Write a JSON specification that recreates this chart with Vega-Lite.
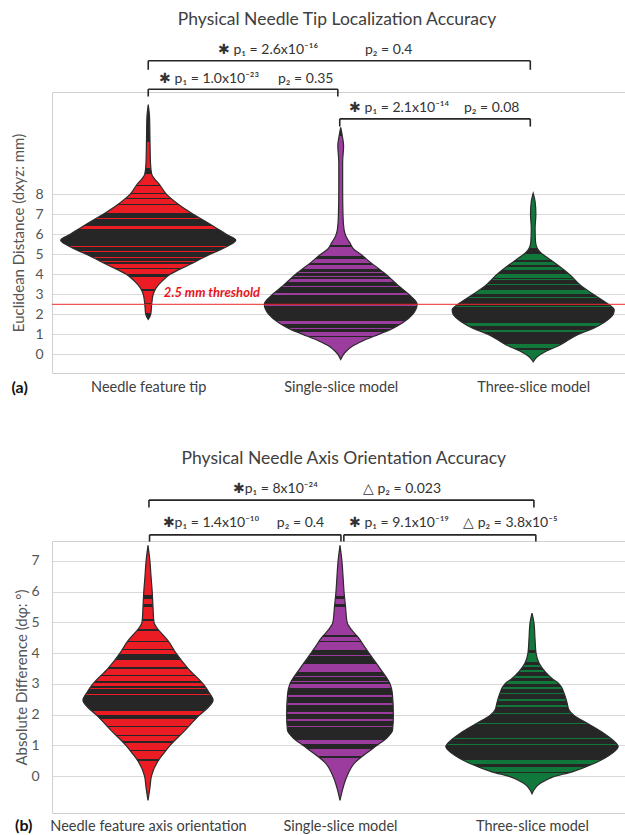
{
  "$schema": "https://vega.github.io/schema/vega-lite/v6.json",
  "background": "white",
  "padding": {"left": 10, "top": 10, "right": 0, "bottom": 0},
  "spacing": 53,
  "config": {
    "view": {"stroke": "#d0d0d0"},
    "font": "Lato",
    "text": {"font": "Lato"},
    "axis": {"labelFont": "Lato", "titleFont": "Lato", "labelLimit": 400}
  },
  "vconcat": [
    {
      "width": 573,
      "height": 281,
      "data": {"values": [
        {"g":"A1","v":12.47,"lo":1,"hi":1},
        {"g":"A1","v":11.8,"lo":0.993,"hi":1.007},
        {"g":"A1","v":10.7,"lo":0.991,"hi":1.009},
        {"g":"A1","v":9.5,"lo":0.988,"hi":1.012},
        {"g":"A1","v":9.0,"lo":0.982,"hi":1.018},
        {"g":"A1","v":8.75,"lo":0.966,"hi":1.034},
        {"g":"A1","v":8.5,"lo":0.943,"hi":1.057},
        {"g":"A1","v":8.0,"lo":0.906,"hi":1.094},
        {"g":"A1","v":7.5,"lo":0.844,"hi":1.156},
        {"g":"A1","v":7.0,"lo":0.766,"hi":1.234},
        {"g":"A1","v":6.5,"lo":0.678,"hi":1.322},
        {"g":"A1","v":6.0,"lo":0.595,"hi":1.405},
        {"g":"A1","v":5.7,"lo":0.545,"hi":1.455},
        {"g":"A1","v":5.42,"lo":0.584,"hi":1.416},
        {"g":"A1","v":5.0,"lo":0.678,"hi":1.322},
        {"g":"A1","v":4.5,"lo":0.782,"hi":1.218},
        {"g":"A1","v":4.0,"lo":0.886,"hi":1.114},
        {"g":"A1","v":3.67,"lo":0.927,"hi":1.073},
        {"g":"A1","v":3.33,"lo":0.958,"hi":1.042},
        {"g":"A1","v":3.0,"lo":0.974,"hi":1.026},
        {"g":"A1","v":2.5,"lo":0.982,"hi":1.018},
        {"g":"A1","v":2.0,"lo":0.987,"hi":1.013},
        {"g":"A1","v":1.75,"lo":1,"hi":1},
        {"g":"A2","v":11.33,"lo":2,"hi":2},
        {"g":"A2","v":10.92,"lo":1.992,"hi":2.008},
        {"g":"A2","v":10.4,"lo":1.985,"hi":2.015},
        {"g":"A2","v":9.58,"lo":1.99,"hi":2.01},
        {"g":"A2","v":8.25,"lo":1.99,"hi":2.01},
        {"g":"A2","v":6.92,"lo":1.988,"hi":2.012},
        {"g":"A2","v":6.25,"lo":1.983,"hi":2.017},
        {"g":"A2","v":5.92,"lo":1.974,"hi":2.026},
        {"g":"A2","v":5.58,"lo":1.953,"hi":2.047},
        {"g":"A2","v":5.25,"lo":1.932,"hi":2.068},
        {"g":"A2","v":5.0,"lo":1.896,"hi":2.104},
        {"g":"A2","v":4.58,"lo":1.844,"hi":2.156},
        {"g":"A2","v":4.0,"lo":1.766,"hi":2.234},
        {"g":"A2","v":3.42,"lo":1.699,"hi":2.301},
        {"g":"A2","v":3.0,"lo":1.647,"hi":2.353},
        {"g":"A2","v":2.5,"lo":1.603,"hi":2.397},
        {"g":"A2","v":2.0,"lo":1.626,"hi":2.374},
        {"g":"A2","v":1.58,"lo":1.678,"hi":2.322},
        {"g":"A2","v":1.25,"lo":1.74,"hi":2.26},
        {"g":"A2","v":1.0,"lo":1.803,"hi":2.197},
        {"g":"A2","v":0.67,"lo":1.886,"hi":2.114},
        {"g":"A2","v":0.42,"lo":1.938,"hi":2.062},
        {"g":"A2","v":0.08,"lo":1.979,"hi":2.021},
        {"g":"A2","v":-0.25,"lo":2,"hi":2},
        {"g":"A3","v":8.05,"lo":3,"hi":3},
        {"g":"A3","v":7.63,"lo":2.99,"hi":3.01},
        {"g":"A3","v":7.0,"lo":2.986,"hi":3.014},
        {"g":"A3","v":6.3,"lo":2.99,"hi":3.01},
        {"g":"A3","v":5.63,"lo":2.988,"hi":3.012},
        {"g":"A3","v":5.3,"lo":2.979,"hi":3.021},
        {"g":"A3","v":5.05,"lo":2.958,"hi":3.042},
        {"g":"A3","v":4.8,"lo":2.922,"hi":3.078},
        {"g":"A3","v":4.47,"lo":2.875,"hi":3.125},
        {"g":"A3","v":4.0,"lo":2.813,"hi":3.187},
        {"g":"A3","v":3.47,"lo":2.756,"hi":3.244},
        {"g":"A3","v":3.0,"lo":2.688,"hi":3.312},
        {"g":"A3","v":2.55,"lo":2.616,"hi":3.384},
        {"g":"A3","v":2.22,"lo":2.579,"hi":3.421},
        {"g":"A3","v":2.0,"lo":2.584,"hi":3.416},
        {"g":"A3","v":1.63,"lo":2.626,"hi":3.374},
        {"g":"A3","v":1.3,"lo":2.688,"hi":3.312},
        {"g":"A3","v":1.0,"lo":2.766,"hi":3.234},
        {"g":"A3","v":0.47,"lo":2.86,"hi":3.14},
        {"g":"A3","v":0.13,"lo":2.938,"hi":3.062},
        {"g":"A3","v":-0.12,"lo":2.979,"hi":3.021},
        {"g":"A3","v":-0.37,"lo":3,"hi":3}
      ]},
      "layer": [
        {
          "transform": [{"filter": "datum.g == 'A1'"}],
          "mark": {"type": "area", "orient": "horizontal", "interpolate": "monotone", "stroke": "#2b2b2b", "strokeWidth": 1.2,
            "fill": {"gradient": "linear", "x1": 0, "y1": 0, "x2": 0, "y2": 1, "stops": [
              {"offset":0,"color":"#262626"},
              {"offset":0.174,"color":"#262626"},{"offset":0.174,"color":"#ec1c24"},{"offset":0.296,"color":"#ec1c24"},{"offset":0.296,"color":"#262626"},
              {"offset":0.324,"color":"#262626"},{"offset":0.324,"color":"#ec1c24"},{"offset":0.373,"color":"#ec1c24"},{"offset":0.373,"color":"#262626"},
              {"offset":0.38,"color":"#262626"},{"offset":0.38,"color":"#ec1c24"},{"offset":0.41,"color":"#ec1c24"},{"offset":0.41,"color":"#262626"},
              {"offset":0.415,"color":"#262626"},{"offset":0.415,"color":"#ec1c24"},{"offset":0.435,"color":"#ec1c24"},{"offset":0.435,"color":"#262626"},
              {"offset":0.44,"color":"#262626"},{"offset":0.44,"color":"#ec1c24"},{"offset":0.461,"color":"#ec1c24"},{"offset":0.461,"color":"#262626"},
              {"offset":0.468,"color":"#262626"},{"offset":0.468,"color":"#ec1c24"},{"offset":0.503,"color":"#ec1c24"},{"offset":0.503,"color":"#262626"},
              {"offset":0.526,"color":"#262626"},{"offset":0.526,"color":"#ec1c24"},{"offset":0.535,"color":"#ec1c24"},{"offset":0.535,"color":"#262626"},
              {"offset":0.564,"color":"#262626"},{"offset":0.564,"color":"#ec1c24"},{"offset":0.578,"color":"#ec1c24"},{"offset":0.578,"color":"#262626"},
              {"offset":0.615,"color":"#262626"},{"offset":0.615,"color":"#ec1c24"},{"offset":0.618,"color":"#ec1c24"},{"offset":0.618,"color":"#262626"},
              {"offset":0.658,"color":"#262626"},{"offset":0.658,"color":"#ec1c24"},{"offset":0.663,"color":"#ec1c24"},{"offset":0.663,"color":"#262626"},
              {"offset":0.684,"color":"#262626"},{"offset":0.684,"color":"#ec1c24"},{"offset":0.687,"color":"#ec1c24"},{"offset":0.687,"color":"#262626"},
              {"offset":0.709,"color":"#262626"},{"offset":0.709,"color":"#ec1c24"},{"offset":0.716,"color":"#ec1c24"},{"offset":0.716,"color":"#262626"},
              {"offset":0.728,"color":"#262626"},{"offset":0.728,"color":"#ec1c24"},{"offset":0.734,"color":"#ec1c24"},{"offset":0.734,"color":"#262626"},
              {"offset":0.743,"color":"#262626"},{"offset":0.743,"color":"#ec1c24"},{"offset":0.762,"color":"#ec1c24"},{"offset":0.762,"color":"#262626"},
              {"offset":0.767,"color":"#262626"},{"offset":0.767,"color":"#ec1c24"},{"offset":0.79,"color":"#ec1c24"},{"offset":0.79,"color":"#262626"},
              {"offset":0.803,"color":"#262626"},{"offset":0.803,"color":"#ec1c24"},{"offset":0.86,"color":"#ec1c24"},{"offset":0.86,"color":"#262626"},
              {"offset":0.866,"color":"#262626"},{"offset":0.866,"color":"#ec1c24"},{"offset":0.925,"color":"#ec1c24"},{"offset":0.925,"color":"#262626"},
              {"offset":0.935,"color":"#262626"},{"offset":0.935,"color":"#ec1c24"},{"offset":0.969,"color":"#ec1c24"},{"offset":0.969,"color":"#262626"},
              {"offset":1,"color":"#262626"}
            ]}},
          "encoding": {
            "y": {"field": "v", "type": "quantitative", "scale": {"domain": [-0.93, 13.1], "nice": false, "zero": false},
              "axis": {"title": "Euclidean Distance (dxyz: mm)", "values": [0,1,2,3,4,5,6,7,8], "tickCount": 30, "format": "d", "labelOverlap": false, "grid": true, "gridColor": "#d9d9d9", "domain": false, "ticks": false,
                "labelPadding": 9, "labelFontSize": 14, "labelColor": "#555555", "titleFontSize": 15, "titleFontWeight": "normal", "titleColor": "#555555", "titlePadding": 8}},
            "x": {"field": "lo", "type": "quantitative", "scale": {"domain": [0.5, 3.477], "nice": false, "zero": false},
              "axis": {"values": [1,2,3], "tickCount": 30, "labelOverlap": false, "labelExpr": "datum.value == 1 ? 'Needle feature tip' : datum.value == 2 ? 'Single-slice model' : 'Three-slice model'",
                "grid": false, "domain": false, "ticks": false, "labelFontSize": 14.5, "labelColor": "#404040", "labelPadding": 7,
                "title": "(a)", "titleX": -41, "titleY": 14, "titleAlign": "left", "titleBaseline": "middle", "titleFontSize": 16, "titleFontWeight": "bold", "titleColor": "#111111"}},
            "x2": {"field": "hi"}
          }
        },
        {
          "transform": [{"filter": "datum.g == 'A2'"}],
          "mark": {"type": "area", "orient": "horizontal", "interpolate": "monotone", "stroke": "#2b2b2b", "strokeWidth": 1.2,
            "fill": {"gradient": "linear", "x1": 0, "y1": 0, "x2": 0, "y2": 1, "stops": [
              {"offset":0,"color":"#262626"},
              {"offset":0.037,"color":"#262626"},{"offset":0.037,"color":"#9c3c9f"},{"offset":0.508,"color":"#9c3c9f"},{"offset":0.508,"color":"#262626"},
              {"offset":0.514,"color":"#262626"},{"offset":0.514,"color":"#9c3c9f"},{"offset":0.554,"color":"#9c3c9f"},{"offset":0.554,"color":"#262626"},
              {"offset":0.568,"color":"#262626"},{"offset":0.568,"color":"#9c3c9f"},{"offset":0.583,"color":"#9c3c9f"},{"offset":0.583,"color":"#262626"},
              {"offset":0.594,"color":"#262626"},{"offset":0.594,"color":"#9c3c9f"},{"offset":0.611,"color":"#9c3c9f"},{"offset":0.611,"color":"#262626"},
              {"offset":0.622,"color":"#262626"},{"offset":0.622,"color":"#9c3c9f"},{"offset":0.629,"color":"#9c3c9f"},{"offset":0.629,"color":"#262626"},
              {"offset":0.642,"color":"#262626"},{"offset":0.642,"color":"#9c3c9f"},{"offset":0.645,"color":"#9c3c9f"},{"offset":0.645,"color":"#262626"},
              {"offset":0.655,"color":"#262626"},{"offset":0.655,"color":"#9c3c9f"},{"offset":0.666,"color":"#9c3c9f"},{"offset":0.666,"color":"#262626"},
              {"offset":0.683,"color":"#262626"},{"offset":0.683,"color":"#9c3c9f"},{"offset":0.688,"color":"#9c3c9f"},{"offset":0.688,"color":"#262626"},
              {"offset":0.715,"color":"#262626"},{"offset":0.715,"color":"#9c3c9f"},{"offset":0.724,"color":"#9c3c9f"},{"offset":0.724,"color":"#262626"},
              {"offset":0.767,"color":"#262626"},{"offset":0.767,"color":"#9c3c9f"},{"offset":0.771,"color":"#9c3c9f"},{"offset":0.771,"color":"#262626"},
              {"offset":0.794,"color":"#262626"},{"offset":0.794,"color":"#9c3c9f"},{"offset":0.797,"color":"#9c3c9f"},{"offset":0.797,"color":"#262626"},
              {"offset":0.834,"color":"#262626"},{"offset":0.834,"color":"#9c3c9f"},{"offset":0.846,"color":"#9c3c9f"},{"offset":0.846,"color":"#262626"},
              {"offset":0.854,"color":"#262626"},{"offset":0.854,"color":"#9c3c9f"},{"offset":0.858,"color":"#9c3c9f"},{"offset":0.858,"color":"#262626"},
              {"offset":0.864,"color":"#262626"},{"offset":0.864,"color":"#9c3c9f"},{"offset":0.871,"color":"#9c3c9f"},{"offset":0.871,"color":"#262626"},
              {"offset":0.882,"color":"#262626"},{"offset":0.882,"color":"#9c3c9f"},{"offset":0.899,"color":"#9c3c9f"},{"offset":0.899,"color":"#262626"},
              {"offset":0.905,"color":"#262626"},{"offset":0.905,"color":"#9c3c9f"},{"offset":1,"color":"#9c3c9f"}
            ]}},
          "encoding": {
            "y": {"field": "v", "type": "quantitative"},
            "x": {"field": "lo", "type": "quantitative"},
            "x2": {"field": "hi"}
          }
        },
        {
          "transform": [{"filter": "datum.g == 'A3'"}],
          "mark": {"type": "area", "orient": "horizontal", "interpolate": "monotone", "stroke": "#2b2b2b", "strokeWidth": 1.2,
            "fill": {"gradient": "linear", "x1": 0, "y1": 0, "x2": 0, "y2": 1, "stops": [
              {"offset":0,"color":"#262626"},
              {"offset":0.018,"color":"#262626"},{"offset":0.018,"color":"#10783b"},{"offset":0.327,"color":"#10783b"},{"offset":0.327,"color":"#262626"},
              {"offset":0.362,"color":"#262626"},{"offset":0.362,"color":"#10783b"},{"offset":0.395,"color":"#10783b"},{"offset":0.395,"color":"#262626"},
              {"offset":0.406,"color":"#262626"},{"offset":0.406,"color":"#10783b"},{"offset":0.425,"color":"#10783b"},{"offset":0.425,"color":"#262626"},
              {"offset":0.437,"color":"#262626"},{"offset":0.437,"color":"#10783b"},{"offset":0.457,"color":"#10783b"},{"offset":0.457,"color":"#262626"},
              {"offset":0.481,"color":"#262626"},{"offset":0.481,"color":"#10783b"},{"offset":0.501,"color":"#10783b"},{"offset":0.501,"color":"#262626"},
              {"offset":0.511,"color":"#262626"},{"offset":0.511,"color":"#10783b"},{"offset":0.517,"color":"#10783b"},{"offset":0.517,"color":"#262626"},
              {"offset":0.538,"color":"#262626"},{"offset":0.538,"color":"#10783b"},{"offset":0.542,"color":"#10783b"},{"offset":0.542,"color":"#262626"},
              {"offset":0.574,"color":"#262626"},{"offset":0.574,"color":"#10783b"},{"offset":0.6,"color":"#10783b"},{"offset":0.6,"color":"#262626"},
              {"offset":0.614,"color":"#262626"},{"offset":0.614,"color":"#10783b"},{"offset":0.624,"color":"#10783b"},{"offset":0.624,"color":"#262626"},
              {"offset":0.671,"color":"#262626"},{"offset":0.671,"color":"#10783b"},{"offset":0.675,"color":"#10783b"},{"offset":0.675,"color":"#262626"},
              {"offset":0.697,"color":"#262626"},{"offset":0.697,"color":"#10783b"},{"offset":0.701,"color":"#10783b"},{"offset":0.701,"color":"#262626"},
              {"offset":0.77,"color":"#262626"},{"offset":0.77,"color":"#10783b"},{"offset":0.786,"color":"#10783b"},{"offset":0.786,"color":"#262626"},
              {"offset":0.811,"color":"#262626"},{"offset":0.811,"color":"#10783b"},{"offset":0.825,"color":"#10783b"},{"offset":0.825,"color":"#262626"},
              {"offset":0.834,"color":"#262626"},{"offset":0.834,"color":"#10783b"},{"offset":0.837,"color":"#10783b"},{"offset":0.837,"color":"#262626"},
              {"offset":0.897,"color":"#262626"},{"offset":0.897,"color":"#10783b"},{"offset":0.917,"color":"#10783b"},{"offset":0.917,"color":"#262626"},
              {"offset":0.93,"color":"#262626"},{"offset":0.93,"color":"#10783b"},{"offset":1,"color":"#10783b"}
            ]}},
          "encoding": {
            "y": {"field": "v", "type": "quantitative"},
            "x": {"field": "lo", "type": "quantitative"},
            "x2": {"field": "hi"}
          }
        },
        {"data": {"values": [{}]}, "mark": {"type": "rule", "color": "#ee2a2a", "strokeWidth": 1}, "encoding": {"y": {"datum": 2.5}}},
        {"data": {"values": [{}]}, "mark": {"type": "text", "text": "2.5 mm threshold", "color": "#e8141c", "fontSize": 13, "fontWeight": "bold", "fontStyle": "italic", "align": "center", "baseline": "middle"},
          "encoding": {"x": {"datum": 1.331}, "y": {"datum": 3.075}}},
        {"data": {"values": [{}]}, "mark": {"type": "rule", "color": "#262626", "strokeWidth": 1.6}, "encoding": {"x": {"datum": 1}, "x2": {"datum": 2.985}, "y": {"datum": 14.66}}},
        {"data": {"values": [{}]}, "mark": {"type": "rule", "color": "#262626", "strokeWidth": 1.6}, "encoding": {"x": {"datum": 1}, "y": {"datum": 14.66}, "y2": {"datum": 14.21}}},
        {"data": {"values": [{}]}, "mark": {"type": "rule", "color": "#262626", "strokeWidth": 1.6}, "encoding": {"x": {"datum": 2.985}, "y": {"datum": 14.66}, "y2": {"datum": 14.21}}},
        {"data": {"values": [{}]}, "mark": {"type": "rule", "color": "#262626", "strokeWidth": 1.6}, "encoding": {"x": {"datum": 1}, "x2": {"datum": 1.985}, "y": {"datum": 13.24}}},
        {"data": {"values": [{}]}, "mark": {"type": "rule", "color": "#262626", "strokeWidth": 1.6}, "encoding": {"x": {"datum": 1}, "y": {"datum": 13.24}, "y2": {"datum": 12.875}}},
        {"data": {"values": [{}]}, "mark": {"type": "rule", "color": "#262626", "strokeWidth": 1.6}, "encoding": {"x": {"datum": 1.985}, "y": {"datum": 13.24}, "y2": {"datum": 12.875}}},
        {"data": {"values": [{}]}, "mark": {"type": "rule", "color": "#262626", "strokeWidth": 1.6}, "encoding": {"x": {"datum": 1.995}, "x2": {"datum": 2.985}, "y": {"datum": 11.76}}},
        {"data": {"values": [{}]}, "mark": {"type": "rule", "color": "#262626", "strokeWidth": 1.6}, "encoding": {"x": {"datum": 1.995}, "y": {"datum": 11.76}, "y2": {"datum": 11.375}}},
        {"data": {"values": [{}]}, "mark": {"type": "rule", "color": "#262626", "strokeWidth": 1.6}, "encoding": {"x": {"datum": 2.985}, "y": {"datum": 11.76}, "y2": {"datum": 11.375}}},
        {"data": {"values": [{}]}, "mark": {"type": "text", "text": "✱ p₁ = 2.6x10⁻¹⁶", "fontSize": 14, "color": "#333333", "align": "left", "baseline": "middle"}, "encoding": {"x": {"datum": 1.362}, "y": {"datum": 15.21}}},
        {"data": {"values": [{}]}, "mark": {"type": "text", "text": "p₂ = 0.4", "fontSize": 14, "color": "#333333", "align": "left", "baseline": "middle"}, "encoding": {"x": {"datum": 2.126}, "y": {"datum": 15.21}}},
        {"data": {"values": [{}]}, "mark": {"type": "text", "text": "✱ p₁ = 1.0x10⁻²³", "fontSize": 14, "color": "#333333", "align": "left", "baseline": "middle"}, "encoding": {"x": {"datum": 1.056}, "y": {"datum": 13.76}}},
        {"data": {"values": [{}]}, "mark": {"type": "text", "text": "p₂ = 0.35", "fontSize": 14, "color": "#333333", "align": "left", "baseline": "middle"}, "encoding": {"x": {"datum": 1.674}, "y": {"datum": 13.76}}},
        {"data": {"values": [{}]}, "mark": {"type": "text", "text": "✱ p₁ = 2.1x10⁻¹⁴", "fontSize": 14, "color": "#333333", "align": "left", "baseline": "middle"}, "encoding": {"x": {"datum": 2.043}, "y": {"datum": 12.29}}},
        {"data": {"values": [{}]}, "mark": {"type": "text", "text": "p₂ = 0.08", "fontSize": 14, "color": "#333333", "align": "left", "baseline": "middle"}, "encoding": {"x": {"datum": 2.64}, "y": {"datum": 12.29}}},
        {"data": {"values": [{}]}, "mark": {"type": "text", "text": "Physical Needle Tip Localization Accuracy", "fontSize": 17.5, "color": "#404040", "align": "center", "baseline": "middle"}, "encoding": {"x": {"datum": 1.981}, "y": {"datum": 16.71}}}
      ]
    },
    {
      "width": 576,
      "height": 272,
      "data": {"values": [
        {"g":"B1","v":7.51,"lo":1,"hi":1},
        {"g":"B1","v":7.0,"lo":0.99,"hi":1.01},
        {"g":"B1","v":6.48,"lo":0.984,"hi":1.016},
        {"g":"B1","v":6.0,"lo":0.978,"hi":1.022},
        {"g":"B1","v":5.5,"lo":0.974,"hi":1.026},
        {"g":"B1","v":5.0,"lo":0.969,"hi":1.031},
        {"g":"B1","v":4.82,"lo":0.953,"hi":1.047},
        {"g":"B1","v":4.63,"lo":0.927,"hi":1.073},
        {"g":"B1","v":4.41,"lo":0.896,"hi":1.104},
        {"g":"B1","v":4.0,"lo":0.854,"hi":1.146},
        {"g":"B1","v":3.5,"lo":0.791,"hi":1.209},
        {"g":"B1","v":3.0,"lo":0.713,"hi":1.287},
        {"g":"B1","v":2.72,"lo":0.682,"hi":1.318},
        {"g":"B1","v":2.47,"lo":0.661,"hi":1.339},
        {"g":"B1","v":2.23,"lo":0.687,"hi":1.313},
        {"g":"B1","v":2.0,"lo":0.729,"hi":1.271},
        {"g":"B1","v":1.49,"lo":0.807,"hi":1.193},
        {"g":"B1","v":1.0,"lo":0.885,"hi":1.115},
        {"g":"B1","v":0.71,"lo":0.922,"hi":1.078},
        {"g":"B1","v":0.49,"lo":0.948,"hi":1.052},
        {"g":"B1","v":0.0,"lo":0.982,"hi":1.018},
        {"g":"B1","v":-0.38,"lo":0.99,"hi":1.01},
        {"g":"B1","v":-0.79,"lo":1,"hi":1},
        {"g":"B2","v":7.51,"lo":2,"hi":2},
        {"g":"B2","v":7.0,"lo":1.99,"hi":2.01},
        {"g":"B2","v":6.48,"lo":1.984,"hi":2.016},
        {"g":"B2","v":6.0,"lo":1.979,"hi":2.021},
        {"g":"B2","v":5.5,"lo":1.971,"hi":2.029},
        {"g":"B2","v":5.0,"lo":1.963,"hi":2.037},
        {"g":"B2","v":4.74,"lo":1.937,"hi":2.063},
        {"g":"B2","v":4.52,"lo":1.906,"hi":2.094},
        {"g":"B2","v":4.19,"lo":1.87,"hi":2.13},
        {"g":"B2","v":4.0,"lo":1.849,"hi":2.151},
        {"g":"B2","v":3.5,"lo":1.791,"hi":2.209},
        {"g":"B2","v":3.0,"lo":1.739,"hi":2.261},
        {"g":"B2","v":2.67,"lo":1.727,"hi":2.273},
        {"g":"B2","v":2.0,"lo":1.722,"hi":2.278},
        {"g":"B2","v":1.5,"lo":1.726,"hi":2.274},
        {"g":"B2","v":1.25,"lo":1.755,"hi":2.245},
        {"g":"B2","v":1.0,"lo":1.807,"hi":2.193},
        {"g":"B2","v":0.71,"lo":1.87,"hi":2.13},
        {"g":"B2","v":0.44,"lo":1.922,"hi":2.078},
        {"g":"B2","v":0.0,"lo":1.963,"hi":2.037},
        {"g":"B2","v":-0.38,"lo":1.984,"hi":2.016},
        {"g":"B2","v":-0.79,"lo":2,"hi":2},
        {"g":"B3","v":5.3,"lo":3,"hi":3},
        {"g":"B3","v":5.0,"lo":2.99,"hi":3.01},
        {"g":"B3","v":4.43,"lo":2.984,"hi":3.016},
        {"g":"B3","v":4.0,"lo":2.979,"hi":3.021},
        {"g":"B3","v":3.67,"lo":2.963,"hi":3.037},
        {"g":"B3","v":3.4,"lo":2.932,"hi":3.068},
        {"g":"B3","v":3.18,"lo":2.896,"hi":3.104},
        {"g":"B3","v":3.0,"lo":2.859,"hi":3.141},
        {"g":"B3","v":2.7,"lo":2.833,"hi":3.167},
        {"g":"B3","v":2.37,"lo":2.817,"hi":3.183},
        {"g":"B3","v":2.15,"lo":2.807,"hi":3.193},
        {"g":"B3","v":1.97,"lo":2.781,"hi":3.219},
        {"g":"B3","v":1.72,"lo":2.713,"hi":3.287},
        {"g":"B3","v":1.39,"lo":2.625,"hi":3.375},
        {"g":"B3","v":1.07,"lo":2.562,"hi":3.438},
        {"g":"B3","v":0.96,"lo":2.551,"hi":3.449},
        {"g":"B3","v":0.74,"lo":2.583,"hi":3.417},
        {"g":"B3","v":0.41,"lo":2.677,"hi":3.323},
        {"g":"B3","v":0.14,"lo":2.791,"hi":3.209},
        {"g":"B3","v":-0.04,"lo":2.896,"hi":3.104},
        {"g":"B3","v":-0.24,"lo":2.958,"hi":3.042},
        {"g":"B3","v":-0.57,"lo":3,"hi":3}
      ]},
      "layer": [
        {
          "transform": [{"filter": "datum.g == 'B1'"}],
          "mark": {"type": "area", "orient": "horizontal", "interpolate": "monotone", "stroke": "#2b2b2b", "strokeWidth": 1.2,
            "fill": {"gradient": "linear", "x1": 0, "y1": 0, "x2": 0, "y2": 1, "stops": [
              {"offset":0,"color":"#262626"},
              {"offset":0.025,"color":"#262626"},{"offset":0.025,"color":"#ec1c24"},{"offset":0.194,"color":"#ec1c24"},{"offset":0.194,"color":"#262626"},
              {"offset":0.21,"color":"#262626"},{"offset":0.21,"color":"#ec1c24"},{"offset":0.23,"color":"#ec1c24"},{"offset":0.23,"color":"#262626"},
              {"offset":0.242,"color":"#262626"},{"offset":0.242,"color":"#ec1c24"},{"offset":0.29,"color":"#ec1c24"},{"offset":0.29,"color":"#262626"},
              {"offset":0.296,"color":"#262626"},{"offset":0.296,"color":"#ec1c24"},{"offset":0.329,"color":"#ec1c24"},{"offset":0.329,"color":"#262626"},
              {"offset":0.334,"color":"#262626"},{"offset":0.334,"color":"#ec1c24"},{"offset":0.375,"color":"#ec1c24"},{"offset":0.375,"color":"#262626"},
              {"offset":0.381,"color":"#262626"},{"offset":0.381,"color":"#ec1c24"},{"offset":0.405,"color":"#ec1c24"},{"offset":0.405,"color":"#262626"},
              {"offset":0.411,"color":"#262626"},{"offset":0.411,"color":"#ec1c24"},{"offset":0.425,"color":"#ec1c24"},{"offset":0.425,"color":"#262626"},
              {"offset":0.45,"color":"#262626"},{"offset":0.45,"color":"#ec1c24"},{"offset":0.478,"color":"#ec1c24"},{"offset":0.478,"color":"#262626"},
              {"offset":0.486,"color":"#262626"},{"offset":0.486,"color":"#ec1c24"},{"offset":0.507,"color":"#ec1c24"},{"offset":0.507,"color":"#262626"},
              {"offset":0.512,"color":"#262626"},{"offset":0.512,"color":"#ec1c24"},{"offset":0.531,"color":"#ec1c24"},{"offset":0.531,"color":"#262626"},
              {"offset":0.54,"color":"#262626"},{"offset":0.54,"color":"#ec1c24"},{"offset":0.553,"color":"#ec1c24"},{"offset":0.553,"color":"#262626"},
              {"offset":0.558,"color":"#262626"},{"offset":0.558,"color":"#ec1c24"},{"offset":0.564,"color":"#ec1c24"},{"offset":0.564,"color":"#262626"},
              {"offset":0.584,"color":"#262626"},{"offset":0.584,"color":"#ec1c24"},{"offset":0.588,"color":"#ec1c24"},{"offset":0.588,"color":"#262626"},
              {"offset":0.649,"color":"#262626"},{"offset":0.649,"color":"#ec1c24"},{"offset":0.664,"color":"#ec1c24"},{"offset":0.664,"color":"#262626"},
              {"offset":0.68,"color":"#262626"},{"offset":0.68,"color":"#ec1c24"},{"offset":0.71,"color":"#ec1c24"},{"offset":0.71,"color":"#262626"},
              {"offset":0.714,"color":"#262626"},{"offset":0.714,"color":"#ec1c24"},{"offset":0.742,"color":"#ec1c24"},{"offset":0.742,"color":"#262626"},
              {"offset":0.746,"color":"#262626"},{"offset":0.746,"color":"#ec1c24"},{"offset":0.767,"color":"#ec1c24"},{"offset":0.767,"color":"#262626"},
              {"offset":0.775,"color":"#262626"},{"offset":0.775,"color":"#ec1c24"},{"offset":0.802,"color":"#ec1c24"},{"offset":0.802,"color":"#262626"},
              {"offset":0.806,"color":"#262626"},{"offset":0.806,"color":"#ec1c24"},{"offset":0.839,"color":"#ec1c24"},{"offset":0.839,"color":"#262626"},
              {"offset":0.844,"color":"#262626"},{"offset":0.844,"color":"#ec1c24"},{"offset":1,"color":"#ec1c24"}
            ]}},
          "encoding": {
            "y": {"field": "v", "type": "quantitative", "scale": {"domain": [-1.2, 7.65], "nice": false, "zero": false},
              "axis": {"title": "Absolute Difference (dφ: °)", "values": [0,1,2,3,4,5,6,7], "tickCount": 30, "format": "d", "labelOverlap": false, "grid": true, "gridColor": "#d9d9d9", "domain": false, "ticks": false,
                "labelPadding": 13, "labelFontSize": 14, "labelColor": "#555555", "titleFontSize": 15, "titleFontWeight": "normal", "titleColor": "#555555", "titlePadding": 1}},
            "x": {"field": "lo", "type": "quantitative", "scale": {"domain": [0.5, 3.5], "nice": false, "zero": false},
              "axis": {"values": [1,2,3], "tickCount": 30, "labelOverlap": false, "labelExpr": "datum.value == 1 ? 'Needle feature axis orientation' : datum.value == 2 ? 'Single-slice model' : 'Three-slice model'",
                "grid": false, "domain": false, "ticks": false, "labelFontSize": 14.5, "labelColor": "#404040", "labelPadding": 6,
                "title": "(b)", "titleX": -37.5, "titleY": 12.5, "titleAlign": "left", "titleBaseline": "middle", "titleFontSize": 16, "titleFontWeight": "bold", "titleColor": "#111111"}},
            "x2": {"field": "hi"}
          }
        },
        {
          "transform": [{"filter": "datum.g == 'B2'"}],
          "mark": {"type": "area", "orient": "horizontal", "interpolate": "monotone", "stroke": "#2b2b2b", "strokeWidth": 1.2,
            "fill": {"gradient": "linear", "x1": 0, "y1": 0, "x2": 0, "y2": 1, "stops": [
              {"offset":0,"color":"#262626"},
              {"offset":0.025,"color":"#262626"},{"offset":0.025,"color":"#9c3c9f"},{"offset":0.2,"color":"#9c3c9f"},{"offset":0.2,"color":"#262626"},
              {"offset":0.212,"color":"#262626"},{"offset":0.212,"color":"#9c3c9f"},{"offset":0.23,"color":"#9c3c9f"},{"offset":0.23,"color":"#262626"},
              {"offset":0.242,"color":"#262626"},{"offset":0.242,"color":"#9c3c9f"},{"offset":0.351,"color":"#9c3c9f"},{"offset":0.351,"color":"#262626"},
              {"offset":0.36,"color":"#262626"},{"offset":0.36,"color":"#9c3c9f"},{"offset":0.375,"color":"#9c3c9f"},{"offset":0.375,"color":"#262626"},
              {"offset":0.381,"color":"#262626"},{"offset":0.381,"color":"#9c3c9f"},{"offset":0.411,"color":"#9c3c9f"},{"offset":0.411,"color":"#262626"},
              {"offset":0.429,"color":"#262626"},{"offset":0.429,"color":"#9c3c9f"},{"offset":0.435,"color":"#9c3c9f"},{"offset":0.435,"color":"#262626"},
              {"offset":0.464,"color":"#262626"},{"offset":0.464,"color":"#9c3c9f"},{"offset":0.498,"color":"#9c3c9f"},{"offset":0.498,"color":"#262626"},
              {"offset":0.513,"color":"#262626"},{"offset":0.513,"color":"#9c3c9f"},{"offset":0.517,"color":"#9c3c9f"},{"offset":0.517,"color":"#262626"},
              {"offset":0.531,"color":"#262626"},{"offset":0.531,"color":"#9c3c9f"},{"offset":0.537,"color":"#9c3c9f"},{"offset":0.537,"color":"#262626"},
              {"offset":0.543,"color":"#262626"},{"offset":0.543,"color":"#9c3c9f"},{"offset":0.561,"color":"#9c3c9f"},{"offset":0.561,"color":"#262626"},
              {"offset":0.586,"color":"#262626"},{"offset":0.586,"color":"#9c3c9f"},{"offset":0.594,"color":"#9c3c9f"},{"offset":0.594,"color":"#262626"},
              {"offset":0.62,"color":"#262626"},{"offset":0.62,"color":"#9c3c9f"},{"offset":0.625,"color":"#9c3c9f"},{"offset":0.625,"color":"#262626"},
              {"offset":0.654,"color":"#262626"},{"offset":0.654,"color":"#9c3c9f"},{"offset":0.661,"color":"#9c3c9f"},{"offset":0.661,"color":"#262626"},
              {"offset":0.682,"color":"#262626"},{"offset":0.682,"color":"#9c3c9f"},{"offset":0.688,"color":"#9c3c9f"},{"offset":0.688,"color":"#262626"},
              {"offset":0.707,"color":"#262626"},{"offset":0.707,"color":"#9c3c9f"},{"offset":0.714,"color":"#9c3c9f"},{"offset":0.714,"color":"#262626"},
              {"offset":0.764,"color":"#262626"},{"offset":0.764,"color":"#9c3c9f"},{"offset":0.78,"color":"#9c3c9f"},{"offset":0.78,"color":"#262626"},
              {"offset":0.8,"color":"#262626"},{"offset":0.8,"color":"#9c3c9f"},{"offset":0.827,"color":"#9c3c9f"},{"offset":0.827,"color":"#262626"},
              {"offset":0.833,"color":"#262626"},{"offset":0.833,"color":"#9c3c9f"},{"offset":1,"color":"#9c3c9f"}
            ]}},
          "encoding": {
            "y": {"field": "v", "type": "quantitative"},
            "x": {"field": "lo", "type": "quantitative"},
            "x2": {"field": "hi"}
          }
        },
        {
          "transform": [{"filter": "datum.g == 'B3'"}],
          "mark": {"type": "area", "orient": "horizontal", "interpolate": "monotone", "stroke": "#2b2b2b", "strokeWidth": 1.2,
            "fill": {"gradient": "linear", "x1": 0, "y1": 0, "x2": 0, "y2": 1, "stops": [
              {"offset":0,"color":"#262626"},
              {"offset":0.017,"color":"#262626"},{"offset":0.017,"color":"#10783b"},{"offset":0.204,"color":"#10783b"},{"offset":0.204,"color":"#262626"},
              {"offset":0.221,"color":"#262626"},{"offset":0.221,"color":"#10783b"},{"offset":0.273,"color":"#10783b"},{"offset":0.273,"color":"#262626"},
              {"offset":0.286,"color":"#262626"},{"offset":0.286,"color":"#10783b"},{"offset":0.298,"color":"#10783b"},{"offset":0.298,"color":"#262626"},
              {"offset":0.315,"color":"#262626"},{"offset":0.315,"color":"#10783b"},{"offset":0.327,"color":"#10783b"},{"offset":0.327,"color":"#262626"},
              {"offset":0.349,"color":"#262626"},{"offset":0.349,"color":"#10783b"},{"offset":0.361,"color":"#10783b"},{"offset":0.361,"color":"#262626"},
              {"offset":0.378,"color":"#262626"},{"offset":0.378,"color":"#10783b"},{"offset":0.392,"color":"#10783b"},{"offset":0.392,"color":"#262626"},
              {"offset":0.409,"color":"#262626"},{"offset":0.409,"color":"#10783b"},{"offset":0.419,"color":"#10783b"},{"offset":0.419,"color":"#262626"},
              {"offset":0.44,"color":"#262626"},{"offset":0.44,"color":"#10783b"},{"offset":0.45,"color":"#10783b"},{"offset":0.45,"color":"#262626"},
              {"offset":0.477,"color":"#262626"},{"offset":0.477,"color":"#10783b"},{"offset":0.486,"color":"#10783b"},{"offset":0.486,"color":"#262626"},
              {"offset":0.511,"color":"#262626"},{"offset":0.511,"color":"#10783b"},{"offset":0.518,"color":"#10783b"},{"offset":0.518,"color":"#262626"},
              {"offset":0.554,"color":"#262626"},{"offset":0.554,"color":"#10783b"},{"offset":0.559,"color":"#10783b"},{"offset":0.559,"color":"#262626"},
              {"offset":0.61,"color":"#262626"},{"offset":0.61,"color":"#10783b"},{"offset":0.615,"color":"#10783b"},{"offset":0.615,"color":"#262626"},
              {"offset":0.69,"color":"#262626"},{"offset":0.69,"color":"#10783b"},{"offset":0.697,"color":"#10783b"},{"offset":0.697,"color":"#262626"},
              {"offset":0.724,"color":"#262626"},{"offset":0.724,"color":"#10783b"},{"offset":0.733,"color":"#10783b"},{"offset":0.733,"color":"#262626"},
              {"offset":0.739,"color":"#262626"},{"offset":0.739,"color":"#10783b"},{"offset":0.744,"color":"#10783b"},{"offset":0.744,"color":"#262626"},
              {"offset":0.814,"color":"#262626"},{"offset":0.814,"color":"#10783b"},{"offset":0.833,"color":"#10783b"},{"offset":0.833,"color":"#262626"},
              {"offset":0.852,"color":"#262626"},{"offset":0.852,"color":"#10783b"},{"offset":0.879,"color":"#10783b"},{"offset":0.879,"color":"#262626"},
              {"offset":0.888,"color":"#262626"},{"offset":0.888,"color":"#10783b"},{"offset":1,"color":"#10783b"}
            ]}},
          "encoding": {
            "y": {"field": "v", "type": "quantitative"},
            "x": {"field": "lo", "type": "quantitative"},
            "x2": {"field": "hi"}
          }
        },
        {"data": {"values": [{}]}, "mark": {"type": "rule", "color": "#262626", "strokeWidth": 1.6}, "encoding": {"x": {"datum": 1.005}, "x2": {"datum": 3.01}, "y": {"datum": 8.98}}},
        {"data": {"values": [{}]}, "mark": {"type": "rule", "color": "#262626", "strokeWidth": 1.6}, "encoding": {"x": {"datum": 1.005}, "y": {"datum": 8.98}, "y2": {"datum": 8.74}}},
        {"data": {"values": [{}]}, "mark": {"type": "rule", "color": "#262626", "strokeWidth": 1.6}, "encoding": {"x": {"datum": 3.01}, "y": {"datum": 8.98}, "y2": {"datum": 8.74}}},
        {"data": {"values": [{}]}, "mark": {"type": "rule", "color": "#262626", "strokeWidth": 1.6}, "encoding": {"x": {"datum": 1.008}, "x2": {"datum": 2.005}, "y": {"datum": 7.85}}},
        {"data": {"values": [{}]}, "mark": {"type": "rule", "color": "#262626", "strokeWidth": 1.6}, "encoding": {"x": {"datum": 1.008}, "y": {"datum": 7.85}, "y2": {"datum": 7.63}}},
        {"data": {"values": [{}]}, "mark": {"type": "rule", "color": "#262626", "strokeWidth": 1.6}, "encoding": {"x": {"datum": 2.005}, "y": {"datum": 7.85}, "y2": {"datum": 7.63}}},
        {"data": {"values": [{}]}, "mark": {"type": "rule", "color": "#262626", "strokeWidth": 1.6}, "encoding": {"x": {"datum": 2.02}, "x2": {"datum": 3.02}, "y": {"datum": 7.85}}},
        {"data": {"values": [{}]}, "mark": {"type": "rule", "color": "#262626", "strokeWidth": 1.6}, "encoding": {"x": {"datum": 2.02}, "y": {"datum": 7.85}, "y2": {"datum": 7.63}}},
        {"data": {"values": [{}]}, "mark": {"type": "rule", "color": "#262626", "strokeWidth": 1.6}, "encoding": {"x": {"datum": 3.02}, "y": {"datum": 7.85}, "y2": {"datum": 7.63}}},
        {"data": {"values": [{}]}, "mark": {"type": "text", "text": "✱p₁ = 8x10⁻²⁴", "fontSize": 14, "color": "#333333", "align": "left", "baseline": "middle"}, "encoding": {"x": {"datum": 1.441}, "y": {"datum": 9.35}}},
        {"data": {"values": [{}]}, "mark": {"type": "text", "text": "△ p₂ = 0.023", "fontSize": 14, "color": "#333333", "align": "left", "baseline": "middle"}, "encoding": {"x": {"datum": 2.119}, "y": {"datum": 9.35}}},
        {"data": {"values": [{}]}, "mark": {"type": "text", "text": "✱p₁ = 1.4x10⁻¹⁰", "fontSize": 14, "color": "#333333", "align": "left", "baseline": "middle"}, "encoding": {"x": {"datum": 1.076}, "y": {"datum": 8.25}}},
        {"data": {"values": [{}]}, "mark": {"type": "text", "text": "p₂ = 0.4", "fontSize": 14, "color": "#333333", "align": "left", "baseline": "middle"}, "encoding": {"x": {"datum": 1.671}, "y": {"datum": 8.25}}},
        {"data": {"values": [{}]}, "mark": {"type": "text", "text": "✱ p₁ = 9.1x10⁻¹⁹", "fontSize": 14, "color": "#333333", "align": "left", "baseline": "middle"}, "encoding": {"x": {"datum": 2.046}, "y": {"datum": 8.25}}},
        {"data": {"values": [{}]}, "mark": {"type": "text", "text": "△ p₂ = 3.8x10⁻⁵", "fontSize": 14, "color": "#333333", "align": "left", "baseline": "middle"}, "encoding": {"x": {"datum": 2.641}, "y": {"datum": 8.25}}},
        {"data": {"values": [{}]}, "mark": {"type": "text", "text": "Physical Needle Axis Orientation Accuracy", "fontSize": 17.5, "color": "#404040", "align": "center", "baseline": "middle"}, "encoding": {"x": {"datum": 2.02}, "y": {"datum": 10.31}}}
      ]
    }
  ]
}
